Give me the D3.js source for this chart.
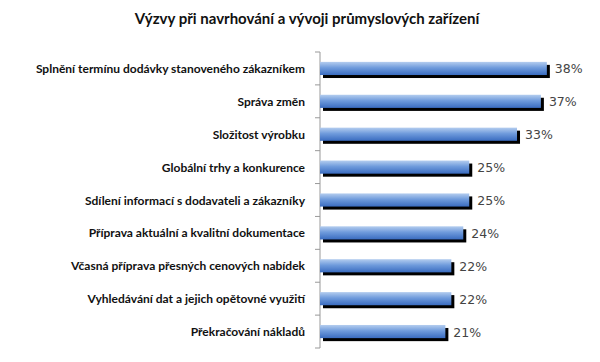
<!DOCTYPE html>
<html>
<head>
<meta charset="utf-8">
<script src="https://cdn.jsdelivr.net/npm/d3@7"></script>
<style>
  body { margin: 0; padding: 0; background: #fff; }
</style>
</head>
<body>
<div id="chart"></div>
<script>
const width = 600;
const height = 362;

const categories = [
  "Splnění termínu dodávky stanoveného zákazníkem",
  "Správa změn",
  "Složitost výrobku",
  "Globální trhy a konkurence",
  "Sdílení informací s dodavateli a zákazníky",
  "Příprava aktuální a kvalitní dokumentace",
  "Včasná příprava přesných cenových nabídek",
  "Vyhledávání dat a jejich opětovné využití",
  "Překračování nákladů"
];
const values = [38, 37, 33, 25, 25, 24, 22, 22, 21];

const margin = { top: 52, left: 320, bottom: 14 };

const svg = d3.select("#chart").append("svg")
    .attr("width", width)
    .attr("height", height);

const defs = svg.append("defs");
const grad = defs.append("linearGradient")
    .attr("id", "barGrad")
    .attr("x1", 0).attr("y1", 0).attr("x2", 0).attr("y2", 1);
grad.append("stop").attr("offset", "0%").attr("stop-color", "#b4cdef");
grad.append("stop").attr("offset", "45%").attr("stop-color", "#6f9bdc");
grad.append("stop").attr("offset", "100%").attr("stop-color", "#3a6cc0");

// Title
svg.append("text")
    .attr("x", 307)
    .attr("y", 24)
    .attr("text-anchor", "middle")
    .attr("font-family", "Lato, sans-serif")
    .attr("font-weight", "bold")
    .attr("font-size", "15px")
    .attr("fill", "#111")
    .text("Výzvy při navrhování a vývoji průmyslových zařízení");

const x = d3.scaleLinear()
    .domain([0, 10])
    .range([margin.left, margin.left + 59.7]);

const y = d3.scaleBand()
    .domain(categories)
    .range([margin.top, height - margin.bottom])
    .paddingInner(0.6)
    .paddingOuter(0.3);

const bandStep = y.step();

// Axis line and ticks between categories
const g = svg.append("g");
g.append("line")
    .attr("x1", margin.left).attr("x2", margin.left)
    .attr("y1", margin.top).attr("y2", height - margin.bottom)
    .attr("stroke", "#999").attr("stroke-width", 1);

const tickYs = d3.range(categories.length + 1).map(i => margin.top + i * bandStep);
g.selectAll(".tick")
    .data(tickYs)
    .enter().append("line")
    .attr("x1", margin.left - 5).attr("x2", margin.left)
    .attr("y1", d => d).attr("y2", d => d)
    .attr("stroke", "#999").attr("stroke-width", 1);

// Shadows
svg.selectAll(".shadow")
    .data(values)
    .enter().append("rect")
    .attr("x", margin.left + 3)
    .attr("y", (d, i) => y(categories[i]) + 3)
    .attr("width", d => x(d) - margin.left)
    .attr("height", y.bandwidth())
    .attr("fill", "#000");

// Bars
svg.selectAll(".bar")
    .data(values)
    .enter().append("rect")
    .attr("x", margin.left)
    .attr("y", (d, i) => y(categories[i]))
    .attr("width", d => x(d) - margin.left)
    .attr("height", y.bandwidth())
    .attr("fill", "url(#barGrad)");

// Value labels
svg.selectAll(".val")
    .data(values)
    .enter().append("text")
    .attr("x", d => x(d) + 8)
    .attr("y", (d, i) => y(categories[i]) + y.bandwidth() / 2 + 5)
    .attr("font-family", "DejaVu Sans, sans-serif")
    .attr("font-size", "12.5px")
    .attr("fill", "#444")
    .text(d => d + "%");

// Category labels
svg.selectAll(".cat")
    .data(categories)
    .enter().append("text")
    .attr("x", 305)
    .attr("y", d => y(d) + y.bandwidth() / 2 + 4.5)
    .attr("text-anchor", "end")
    .attr("font-family", "Lato, sans-serif")
    .attr("font-weight", "bold")
    .attr("font-size", "12px")
    .attr("fill", "#111")
    .text(d => d);
</script>
</body>
</html>
